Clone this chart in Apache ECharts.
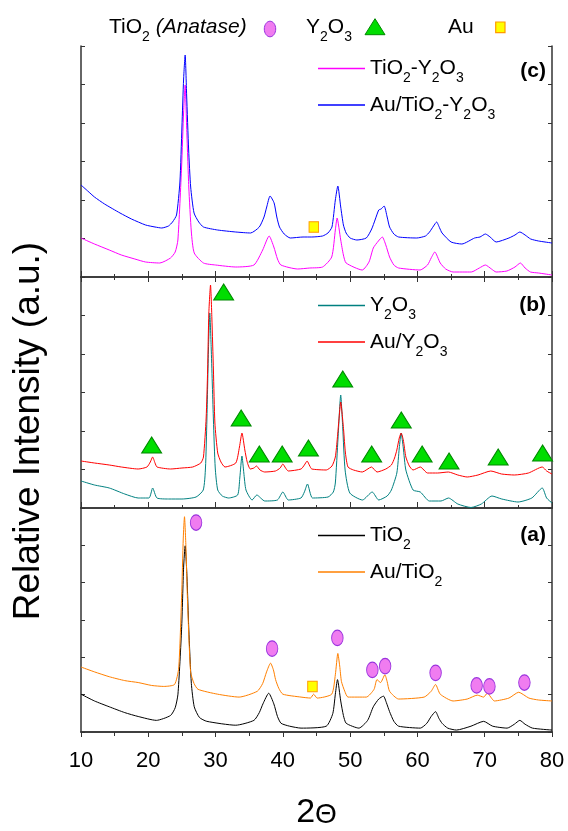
<!DOCTYPE html>
<html>
<head>
<meta charset="utf-8">
<script src="https://cdn.jsdelivr.net/npm/echarts@6/dist/echarts.min.js"></script>
<style>
  html, body { margin: 0; padding: 0; background: #fff; }
  #chart { width: 568px; height: 831px; }
</style>
</head>
<body>
<div id="chart"></div>
<script>
// XRD patterns: [2theta, relative intensity inside its panel]
// panel (c)
const tiO2Y2O3 = [[10,39],[12,33],[14.2,27],[16,22],[18,18],[19.6,15],[21.7,14],[23.3,19],[24.0,25],[24.4,37],[24.95,110],[25.25,165],[25.48,192],[25.7,150],[26.02,90],[26.4,45],[26.83,24],[28.2,14],[30,12],[33,10],[35.7,12],[37,27],[37.96,41],[38.66,30],[39.2,18],[39.7,12],[42.2,8],[44,9],[45.9,10],[47.26,20],[47.8,47],[48.06,59],[48.6,37],[49.0,22],[49.4,14],[51.8,7],[52.8,15],[53.44,29],[54.2,36],[54.78,40],[55.3,32],[55.86,20],[56.5,12],[57.2,9],[60.4,7],[61.5,12],[62.04,19],[62.58,25],[63.39,14],[64.2,8],[65.3,5],[68,5],[69.2,9],[70.1,12],[71,8],[71.7,5],[73.3,6],[74.5,10],[75.3,14],[76,9],[76.8,5],[78,4],[80,2]];
const auTiO2Y2O3 = [[10,92],[11,86],[12,80],[13.5,73],[15.8,64],[17.5,58],[19.6,52],[21,50],[22,49],[23,51],[23.6,55],[24.2,62],[24.7,95],[25.0,150],[25.25,198],[25.48,222],[25.7,182],[26.0,127],[26.3,90],[26.8,64],[27.5,55],[28.2,50],[30.3,47],[33,45],[35.2,44],[36.5,50],[37.2,60],[37.6,70],[38.1,81],[38.7,74],[39.1,60],[39.5,50],[40.2,43],[41.1,39],[43,40],[44.3,40],[45.9,41],[46.7,44],[47.3,50],[47.8,77],[48.17,91],[48.6,70],[49,52],[49.4,44],[50,39],[51,37],[52.4,39],[53.2,48],[53.7,57],[54.25,67],[54.6,68],[55.05,71],[55.5,60],[55.86,50],[56.5,43],[57.2,40],[59.9,39],[61.2,41],[61.8,45],[62.4,51],[62.85,55],[63.3,49],[63.66,44],[65,35],[66.6,33],[68.5,39],[69.3,40],[70.1,43],[70.8,40],[71.7,35],[73.6,39],[74.5,42],[75.22,45],[76,42],[76.83,38],[78,36],[80,34]];
// panel (b)
const y2O3 = [[10,27],[12,23],[14.2,20],[16.5,14],[18.5,10],[20.1,10],[20.65,20],[21.29,10],[23,9],[25,9],[27.1,11],[28.17,18],[28.5,40],[28.71,88],[28.95,160],[29.14,195],[29.35,160],[29.68,88],[29.95,40],[30.32,18],[31,12],[31.94,10],[33.28,13],[33.6,30],[33.92,52],[34.2,35],[34.52,18],[35.43,8],[36.13,13],[37.31,7],[39.19,8],[40,16],[40.81,8],[42.69,10],[43.2,16],[43.66,24],[44.41,10],[46.72,11],[47.5,16],[47.8,25],[48.2,70],[48.6,113],[48.9,80],[49.25,38],[49.95,15],[51.83,8],[53.28,16],[54.25,8],[55.5,12],[56.13,18],[56.94,35],[57.3,60],[57.58,75],[57.9,60],[58.28,38],[59.35,18],[60.43,16],[61.77,7],[63.5,7],[64.62,10],[66,4],[67.96,0.5],[69.5,4],[71.08,12],[72.53,9],[74.95,6],[77,10],[78.55,20],[79.2,10],[80,5]];
const auY2O3 = [[10,47],[12,45],[14.2,43],[16,41],[18.5,39],[19.8,41],[20.3,46],[20.65,51],[21.0,45],[21.3,41],[23.3,39],[25,40],[26.6,41],[27.8,45],[28.2,51],[28.6,90],[28.82,138],[29.0,195],[29.25,223],[29.45,190],[29.68,138],[29.9,85],[30.32,55],[30.8,46],[31.4,41],[33,45],[33.55,61],[33.92,75],[34.35,58],[34.7,46],[35.16,39],[35.7,40],[36.08,42],[36.6,38],[37.3,36],[38.9,37],[39.6,40],[40,44],[40.4,40],[40.8,37],[42.7,39],[43.2,43],[43.6,47],[44.0,42],[44.3,39],[46.45,38],[47.3,42],[47.8,51],[48.1,70],[48.33,88],[48.6,106],[48.8,95],[49.03,78],[49.3,55],[49.68,41],[50.5,38],[51.8,36],[53.17,41],[54,36],[55.3,39],[56.13,43],[56.6,50],[56.94,58],[57.3,70],[57.58,75],[57.9,68],[58.28,51],[58.8,42],[59.35,38],[60.43,41],[61.5,35],[63,35],[64.6,36],[66,33],[67.4,31],[69,33],[70.9,37],[72.5,34],[74.4,33],[76.5,35],[78.55,41],[79.2,37],[80,34]];
// panel (a)
const tiO2 = [[10,39],[12,32],[14.2,26],[16.5,20],[18.5,16],[21.2,12],[23.3,17],[24.0,25],[24.41,39],[24.95,106],[25.25,170],[25.48,192],[25.75,160],[26.02,106],[26.4,50],[26.83,26],[27.6,15],[28.7,11],[33,7],[35.7,12],[36.5,20],[37.04,29],[37.9,40],[38.66,29],[39.2,16],[39.73,9],[41,6],[42.7,4],[46.45,6],[47.42,19],[47.8,39],[48.12,54],[48.6,32],[49,17],[49.41,9],[51.3,4],[52.6,12],[53.44,26],[54.25,34],[54.95,37],[55.4,30],[55.86,21],[56.5,11],[57.2,6],[60.43,4],[61.4,9],[62.04,16],[62.69,21],[63.2,14],[63.66,9],[64.5,4],[65.8,2],[67.96,6],[69.84,11],[71.18,6],[73.33,4],[74.4,8],[75.22,12],[76,8],[77.1,4],[80,2]];
const auTiO2 = [[10,67],[12,62],[14.2,57],[16.5,53],[18.5,51],[20.5,48],[22.3,47],[23.9,49],[24.52,66],[24.95,139],[25.2,200],[25.38,222],[25.6,190],[25.81,139],[26.29,62],[26.8,50],[27.4,44],[30.3,39],[33.5,36],[36.2,42],[37,50],[37.58,62],[38.17,71],[38.6,64],[38.92,54],[39.4,45],[40,39],[42.7,36],[44.1,35],[44.57,39],[45.1,35],[47.26,39],[47.8,59],[48.17,81],[48.45,68],[48.71,52],[49.2,42],[49.68,36],[52.4,36],[53.55,44],[53.98,54],[54.52,51],[55.16,59],[55.5,52],[55.86,42],[57.2,34],[61,36],[62.04,42],[62.69,49],[63.39,39],[65.3,32],[67.4,34],[68.9,38],[69.84,36],[70.38,40],[71.45,32],[73.6,35],[75.05,41],[76.56,35],[78,33],[80,32]];

// phase markers
const anatasePeaks = [[27.1,216],[38.4,86],[48.1,97],[53.3,64],[55.2,68],[62.7,61],[68.8,48],[70.7,47],[75.9,51]];
const y2O3Peaks = [[31.2,216],[20.5,63],[33.8,90],[36.5,54],[39.9,54],[43.8,60],[48.9,129],[53.2,54],[57.6,88],[60.7,54],[64.7,47],[72.0,51],[78.6,55]];
const auPeaksA = [[44.4,47]];
const auPeaksC = [[44.6,50]];

const xTicks = { min: 10, max: 80, interval: 10 };
const yTicks = { min: 0, max: 231, interval: 38.5 };

const FONT = 'Liberation Sans, Arial, sans-serif';
const AXIS = '#333';
const ELLIPSE = 'path://M10,0 A10,10 0 1,1 10,20 A10,10 0 1,1 10,0 Z';

const legendText = {
    'TiO2-Y2O3': '{n|TiO}{s|2}{n|-Y}{s|2}{n|O}{s|3}',
    'Au/TiO2-Y2O3': '{n|Au/TiO}{s|2}{n|-Y}{s|2}{n|O}{s|3}',
    'Y2O3': '{n|Y}{s|2}{n|O}{s|3}',
    'Au/Y2O3': '{n|Au/Y}{s|2}{n|O}{s|3}',
    'TiO2': '{n|TiO}{s|2}',
    'Au/TiO2': '{n|Au/TiO}{s|2}'
};
const rich = {
    n: { fontSize: 21, fontFamily: FONT, color: '#000', lineHeight: 24 },
    s: { fontSize: 14, fontFamily: FONT, color: '#000', padding: [10, 0, -10, 0] },
    i: { fontSize: 21, fontFamily: FONT, color: '#000', fontStyle: 'italic', lineHeight: 24 },
    t: { fontSize: 34, fontFamily: FONT, color: '#000' },
    th: { fontSize: 28, fontFamily: FONT, color: '#000', padding: [2, 0, -2, 0] }
};

const tops = [46, 277, 508];

function xAxes(g) {
    const last = g === 2;
    return [{
        gridIndex: g, type: 'value', position: 'bottom',
        min: xTicks.min, max: xTicks.max, interval: xTicks.interval,
        axisLine: { show: true, lineStyle: { color: AXIS, width: 1.5 } },
        axisTick: { show: true, inside: !last, length: last ? 5 : 6, lineStyle: { color: AXIS } },
        minorTick: { show: true, splitNumber: 2, length: last ? 4 : 3, lineStyle: { color: AXIS } },
        splitLine: { show: false },
        axisLabel: {
            show: last, fontSize: 22, fontFamily: FONT, color: '#000', margin: 18,
            showMinLabel: true, showMaxLabel: true
        },
        name: last ? '{t|2}{th|Θ}' : '',
        nameLocation: 'middle', nameGap: 64,
        nameTextStyle: { rich: rich }
    }, {
        gridIndex: g, type: 'value', position: 'top',
        min: xTicks.min, max: xTicks.max, interval: xTicks.interval,
        axisLine: { show: true, lineStyle: { color: AXIS, width: 1.5 } },
        axisTick: { show: g === 0, inside: true, length: 5, lineStyle: { color: AXIS } },
        minorTick: { show: g === 0, splitNumber: 2, length: 3, lineStyle: { color: AXIS } },
        splitLine: { show: false },
        axisLabel: { show: false }
    }];
}

function yAxes(g) {
    return ['left', 'right'].map(function (pos) {
        return {
            gridIndex: g, type: 'value', position: pos,
            min: yTicks.min, max: yTicks.max, interval: yTicks.interval,
            axisLine: { show: true, lineStyle: { color: AXIS, width: 1.5 } },
            axisTick: { show: true, inside: true, length: 4, lineStyle: { color: AXIS } },
            splitLine: { show: false },
            axisLabel: { show: false }
        };
    });
}

function line(name, data, color, g) {
    return {
        name: name, type: 'line', data: data,
        xAxisIndex: g * 2, yAxisIndex: g * 2,
        symbol: 'none', showSymbol: false, smooth: 0.2,
        lineStyle: { color: color, width: 1 },
        itemStyle: { color: color },
        animation: false
    };
}

function marks(name, data, symbol, size, fill, border, g) {
    return {
        name: name, type: 'scatter', data: data,
        xAxisIndex: g * 2, yAxisIndex: g * 2,
        symbol: symbol, symbolSize: size,
        itemStyle: { color: fill, borderColor: border, borderWidth: 1, opacity: 1 },
        z: 5, animation: false, silent: true
    };
}

function panelLegend(names, top) {
    return {
        data: names, orient: 'vertical', left: 318, top: top, padding: 0,
        icon: 'rect', itemWidth: 47, itemHeight: 1.3, itemGap: 9, selectedMode: false,
        formatter: function (n) { return legendText[n]; },
        textStyle: { rich: rich }
    };
}

function label(txt, y) {
    return {
        type: 'text', x: 546, y: y,
        style: {
            text: txt, fill: '#000', font: 'bold 21px ' + FONT,
            align: 'right', verticalAlign: 'middle',
            textAlign: 'right', textVerticalAlign: 'middle'
        }
    };
}

function richText(txt, x, y) {
    return {
        type: 'text', x: x, y: y,
        style: {
            text: txt, rich: rich, fill: '#000',
            align: 'left', verticalAlign: 'middle',
            textAlign: 'left', textVerticalAlign: 'middle'
        }
    };
}

const chart = echarts.init(document.getElementById('chart'));
chart.setOption({
    backgroundColor: '#fff',
    animation: false,
    grid: tops.map(function (t) {
        return { left: 81, top: t, width: 471, height: 231 };
    }),
    xAxis: [].concat(xAxes(0), xAxes(1), xAxes(2)),
    yAxis: [].concat(yAxes(0), yAxes(1), yAxes(2)),
    legend: [
        panelLegend(['TiO2-Y2O3', 'Au/TiO2-Y2O3'], 58),
        panelLegend(['Y2O3', 'Au/Y2O3'], 295),
        panelLegend(['TiO2', 'Au/TiO2'], 525)
    ],
    series: [
        line('TiO2-Y2O3', tiO2Y2O3, '#ff00ff', 0),
        line('Au/TiO2-Y2O3', auTiO2Y2O3, '#0000ff', 0),
        marks('Au (c)', auPeaksC, 'rect', [9.5, 10.5], '#ffff00', '#ff9900', 0),
        line('Y2O3', y2O3, '#008080', 1),
        line('Au/Y2O3', auY2O3, '#ff0000', 1),
        marks('Y2O3 peaks', y2O3Peaks, 'triangle', [20, 16], '#00dd00', '#008800', 1),
        line('TiO2', tiO2, '#000000', 2),
        line('Au/TiO2', auTiO2, '#ff8000', 2),
        marks('Anatase peaks', anatasePeaks, ELLIPSE, [11.5, 15.5], '#f07cf0', '#9933dd', 2),
        marks('Au (a)', auPeaksA, 'rect', [9.5, 10.5], '#ffff00', '#ff9900', 2)
    ],
    graphic: [
        {
            type: 'text', x: 29, y: 431, rotation: Math.PI / 2,
            style: {
                text: 'Relative Intensity (a.u.)', fill: '#000', font: '37px ' + FONT,
                align: 'center', verticalAlign: 'middle',
                textAlign: 'center', textVerticalAlign: 'middle'
            }
        },
        label('(c)', 71),
        label('(b)', 305),
        label('(a)', 535),
        // phase key above the plot
        richText('{n|TiO}{s|2}{n| }{i|(Anatase)}', 109, 27),
        {
            type: 'ellipse', shape: { cx: 270, cy: 29, rx: 5.7, ry: 7.8 },
            style: { fill: '#f07cf0', stroke: '#9933dd', lineWidth: 1 }
        },
        richText('{n|Y}{s|2}{n|O}{s|3}', 306, 27),
        {
            type: 'polygon', shape: { points: [[365, 34.7], [385, 34.7], [375, 18.7]] },
            style: { fill: '#00dd00', stroke: '#008800', lineWidth: 1 }
        },
        richText('{n|Au}', 448, 27),
        {
            type: 'rect', shape: { x: 495.7, y: 22, width: 9.3, height: 10.7 },
            style: { fill: '#ffff00', stroke: '#ff9900', lineWidth: 1.2 }
        }
    ]
});
</script>
</body>
</html>
